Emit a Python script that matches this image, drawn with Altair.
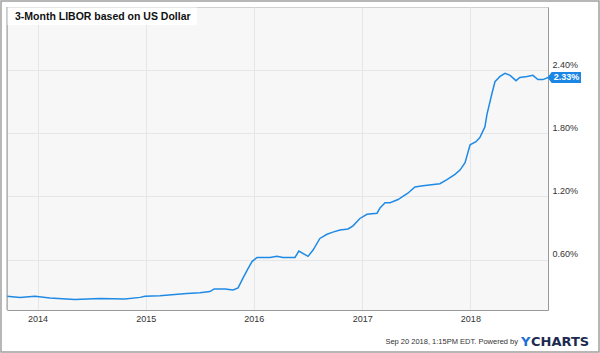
import altair as alt
import pandas as pd

# ---- data ----
dates = [
    "2013-09-20", "2013-11-03", "2013-12-23", "2014-02-12", "2014-05-07", "2014-07-31",
    "2014-10-23", "2014-12-13", "2014-12-30", "2015-02-18", "2015-05-20", "2015-07-03",
    "2015-08-06", "2015-08-20", "2015-09-26", "2015-10-23", "2015-11-09", "2015-11-25",
    "2015-12-12", "2015-12-26", "2016-01-12", "2016-02-25", "2016-03-19", "2016-04-08",
    "2016-05-19", "2016-06-01", "2016-07-02", "2016-07-19", "2016-08-11", "2016-09-04",
    "2016-09-24", "2016-10-18", "2016-11-14", "2016-12-01", "2016-12-24", "2017-01-17",
    "2017-02-20", "2017-03-02", "2017-03-19", "2017-04-05", "2017-05-02", "2017-05-18",
    "2017-06-04", "2017-06-28", "2017-07-25", "2017-09-20", "2017-10-14", "2017-11-10",
    "2017-11-27", "2017-12-14", "2017-12-31", "2018-01-20", "2018-02-02", "2018-02-19",
    "2018-02-26", "2018-03-15", "2018-03-25", "2018-04-11", "2018-04-28", "2018-05-15",
    "2018-06-04", "2018-06-17", "2018-07-11", "2018-07-31", "2018-08-17", "2018-09-03",
    "2018-09-20",
]
values = [
    0.25, 0.24, 0.25, 0.235, 0.22, 0.23,
    0.225, 0.24, 0.25, 0.255, 0.276, 0.285,
    0.295, 0.32, 0.32, 0.31, 0.33, 0.42,
    0.51, 0.58, 0.62, 0.62, 0.63, 0.62,
    0.62, 0.68, 0.63, 0.69, 0.80, 0.84,
    0.86, 0.88, 0.89, 0.92, 0.99, 1.03,
    1.04, 1.09, 1.14, 1.14, 1.17, 1.20,
    1.23, 1.29, 1.30, 1.32, 1.36, 1.41,
    1.45, 1.52, 1.69, 1.72, 1.76, 1.86,
    1.98, 2.18, 2.29, 2.34, 2.37, 2.35,
    2.30, 2.33, 2.34, 2.35, 2.31, 2.31,
    2.33,
]
y_ticks = [0.6, 1.2, 1.8, 2.4]
year_ticks = [2014, 2015, 2016, 2017, 2018]
title_text = "3-Month LIBOR based on US Dollar"
footer_text = "Sep 20 2018, 1:15PM EDT.  Powered by"
logo_y = "Y"
logo_rest = "CHARTS"

df = pd.DataFrame({"date": dates, "value": values})
last = df.tail(1).copy()
last["label"] = last["value"].map(lambda v: f"{v:.2f}%")

W, H = 541, 303
FONT = "Liberation Sans"
LINE = "#1f8ae6"

x_enc = alt.X(
    "date:T",
    scale=alt.Scale(
        type="utc", nice=False,
        domain=[alt.DateTime(year=2013, month=9, date=20, utc=True),
                alt.DateTime(year=2018, month=9, date=20, utc=True)],
    ),
    axis=alt.Axis(
        values=[alt.DateTime(year=y, month=1, date=1, utc=True) for y in year_ticks],
        format="%Y", formatType="utc", ticks=False, labelPadding=4,
        labelFont=FONT, labelFontSize=9, labelColor="#333",
        gridColor="#e6e6e6", domainColor="#999", title=None,
    ),
)
y_enc = alt.Y(
    "value:Q",
    scale=alt.Scale(domain=[0.12, 3.0], nice=False, zero=False),
    axis=alt.Axis(
        orient="right", values=y_ticks,
        labelExpr="format(datum.value, '.2f') + '%'",
        ticks=False, labelPadding=4, labelBaseline="alphabetic", labelOffset=-3,
        labelFont=FONT, labelFontSize=9, labelColor="#333",
        gridColor="#e6e6e6", domainColor="#999", title=None,
    ),
)

line = alt.Chart(df).mark_line(color=LINE, strokeWidth=1.5).encode(x=x_enc, y=y_enc)

tag = alt.Chart(last).mark_point(
    shape="M -1 0 L -0.75 -0.33 L 1 -0.33 L 1 0.33 L -0.75 0.33 Z",
    size=1122, filled=True, color="#1b86e3", opacity=1,
).encode(x=alt.value(557.25), y=alt.Y("value:Q"))
tag_text = alt.Chart(last).mark_text(
    font=FONT, fontSize=9, fontWeight="bold", color="white", align="center", baseline="middle",
).encode(x=alt.value(559.5), y=alt.Y("value:Q"), text="label:N")

one = pd.DataFrame({"t": [title_text], "f": [footer_text], "a": [logo_y], "b": [logo_rest]})

left_edge = alt.Chart(one).mark_rule(color="#999", strokeWidth=1).encode(
    x=alt.value(0), y=alt.value(0), y2=alt.value(H))
title_bg = alt.Chart(one).mark_rect(color="white", opacity=0.9).encode(
    x=alt.value(0.5), x2=alt.value(190), y=alt.value(0.5), y2=alt.value(18))
title = alt.Chart(one).mark_text(
    font=FONT, fontSize=10.5, fontWeight="bold", color="#111", align="left", baseline="alphabetic",
).encode(x=alt.value(8), y=alt.value(13), text="t:N")
footer = alt.Chart(one).mark_text(
    font=FONT, fontSize=7.5, color="#333", align="right", baseline="alphabetic",
).encode(x=alt.value(511), y=alt.value(336.5), text="f:N")
logo1 = alt.Chart(one).mark_text(
    font="DejaVu Sans", fontSize=13, fontWeight="bold", color="#1f6fd8", align="left", baseline="alphabetic",
).encode(x=alt.value(514), y=alt.value(338.7), text="a:N")
logo2 = alt.Chart(one).mark_text(
    font="DejaVu Sans", fontSize=13, fontWeight="bold", color="#1c2a50", align="left", baseline="alphabetic",
).encode(x=alt.value(524), y=alt.value(338.7), text="b:N")
border = alt.Chart(one).mark_rect(fillOpacity=0, stroke="#a0a0a0", strokeWidth=1.5).encode(
    x=alt.value(-6), x2=alt.value(592), y=alt.value(-6), y2=alt.value(345))

chart = alt.layer(
    line, tag, tag_text, left_edge, title_bg, title, footer, logo1, logo2, border
).properties(
    width=W, height=H,
    autosize=alt.AutoSizeParams(type="none"),
    padding={"left": 7, "top": 7, "right": 52, "bottom": 43},
).configure(
    background="white",
).configure_view(
    fill="#f7f7f7", stroke="#cfcfcf",
)

chart.save("out.html", embed_options={"renderer": "svg", "actions": False})
